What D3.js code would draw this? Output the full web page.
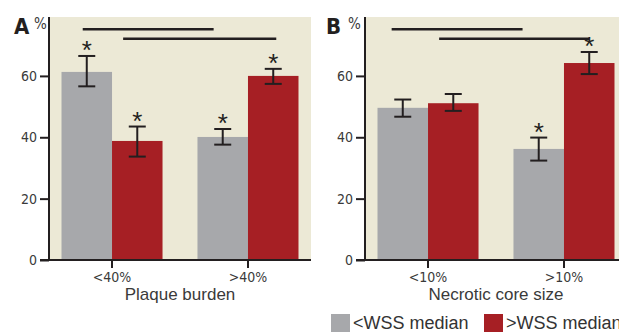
<!DOCTYPE html>
<html>
<head>
<meta charset="utf-8">
<script src="https://cdn.jsdelivr.net/npm/d3@7"></script>
<style>
  body { margin: 0; background: #fff; }
  svg { display: block; }
  .narrow { font-family: 'Liberation Sans Narrow', 'DejaVu Sans Condensed', 'Liberation Sans', sans-serif; }
</style>
</head>
<body>
<div id="chart"></div>
<script>
// ---- data ----
const seriesKeys = ['low', 'high'];
const seriesNames = ['<WSS median', '>WSS median'];
const yTicks = [0, 20, 40, 60];

// panel A: plaque burden
const categoriesA = ['<40%', '>40%'];
const lowWssA = [61.3, 40.1];
const highWssA = [38.8, 60.0];
const lowWssErrA = [[56.6, 66.5], [37.6, 42.7]];
const highWssErrA = [[33.7, 43.5], [57.4, 62.3]];
const lowWssStarA = [true, true];
const highWssStarA = [true, true];
// significance bars: [category, fraction along group] -> [category, fraction], level
const sigLinesA = [
  { from: ['<40%', 0.21], to: ['>40%', 0.16], level: 75.2 },
  { from: ['<40%', 0.61], to: ['>40%', 0.78], level: 72.1 }
];

// panel B: necrotic core size
const categoriesB = ['<10%', '>10%'];
const lowWssB = [49.6, 36.2];
const highWssB = [51.1, 64.2];
const lowWssErrB = [[46.7, 52.3], [32.4, 39.9]];
const highWssErrB = [[48.6, 54.1], [60.6, 67.8]];
const lowWssStarB = [false, true];
const highWssStarB = [false, true];
const sigLinesB = [
  { from: ['<10%', 0.14], to: ['>10%', 0.09], level: 75.2 },
  { from: ['<10%', 0.61], to: ['>10%', 0.75], level: 72.1 }
];

// ---- drawing ----
const W = 619, H = 332;
const colors = { low: '#a7a8ab', high: '#a61f24' };
const ink = '#231f20';

const svg = d3.select('#chart').append('svg')
    .attr('width', W)
    .attr('height', H);

const y = d3.scaleLinear()
    .domain([0, 79.2])
    .range([260, 17]);

const drawPanel = (p) => {
  const x = d3.scaleBand()
      .domain(p.categories)
      .range([p.left, p.right])
      .paddingInner(0.257)
      .paddingOuter(0.092);

  const xs = d3.scaleBand()
      .domain(seriesKeys)
      .range([0, x.bandwidth()]);

  const g = svg.append('g');

  g.append('rect')
      .attr('x', p.left)
      .attr('y', y.range()[1])
      .attr('width', p.right - p.left)
      .attr('height', y(0) - y.range()[1])
      .attr('fill', '#ece9d6');

  const rows = p.categories.map((c, i) => ({
    cat: c,
    values: [
      { key: 'low', v: p.low[i], err: p.lowErr[i], star: p.lowStar[i] },
      { key: 'high', v: p.high[i], err: p.highErr[i], star: p.highStar[i] }
    ]
  }));

  const grp = g.selectAll('.grp')
      .data(rows)
    .enter()
      .append('g')
      .attr('class', 'grp')
      .attr('transform', (d) => `translate(${x(d.cat)},0)`);

  grp.selectAll('rect')
      .data((d) => d.values)
    .enter()
      .append('rect')
      .attr('x', (d) => xs(d.key))
      .attr('y', (d) => y(d.v))
      .attr('width', xs.bandwidth())
      .attr('height', (d) => y(0) - y(d.v))
      .attr('fill', (d) => colors[d.key]);

  const eb = grp.selectAll('.eb')
      .data((d) => d.values)
    .enter()
      .append('g')
      .attr('class', 'eb')
      .attr('transform', (d) => `translate(${xs(d.key) + xs.bandwidth() / 2},0)`)
      .attr('stroke', ink)
      .attr('stroke-width', 2);
  eb.append('line')
      .attr('y1', (d) => y(d.err[0]))
      .attr('y2', (d) => y(d.err[1]));
  eb.append('line')
      .attr('x1', -8.5).attr('x2', 8.5)
      .attr('y1', (d) => y(d.err[0]))
      .attr('y2', (d) => y(d.err[0]));
  eb.append('line')
      .attr('x1', -8.5).attr('x2', 8.5)
      .attr('y1', (d) => y(d.err[1]))
      .attr('y2', (d) => y(d.err[1]));

  grp.selectAll('.star')
      .data((d) => d.values.filter((v) => v.star))
    .enter()
      .append('text')
      .attr('class', 'star')
      .attr('x', (d) => xs(d.key) + xs.bandwidth() / 2)
      .attr('y', (d) => y(d.err[1]) + 3)
      .attr('text-anchor', 'middle')
      .style('font-family', 'Liberation Sans, sans-serif')
      .style('font-size', '26px')
      .style('fill', ink)
      .text('*');

  g.selectAll('.sig')
      .data(p.sig)
    .enter()
      .append('line')
      .attr('x1', (d) => x(d.from[0]) + d.from[1] * x.bandwidth())
      .attr('x2', (d) => x(d.to[0]) + d.to[1] * x.bandwidth())
      .attr('y1', (d) => y(d.level))
      .attr('y2', (d) => y(d.level))
      .attr('stroke', ink)
      .attr('stroke-width', 2.5);

  // axes
  const yAxis = g.append('g')
      .attr('transform', `translate(${p.left},0)`)
      .call(d3.axisLeft(y).tickValues(yTicks).tickSize(9).tickPadding(3).tickFormat(d3.format('d')));
  yAxis.select('.domain').attr('d', `M0,${y.range()[1]}V${y(0)}`);

  const xAxis = g.append('g')
      .attr('transform', `translate(0,${y(0)})`)
      .call(d3.axisBottom(x).tickSize(8).tickPadding(4));
  xAxis.select('.domain').attr('d', `M${p.left - 9},0H${p.right}`);

  [yAxis, xAxis].forEach((ax) => {
    ax.selectAll('.domain, line').attr('stroke', ink).attr('stroke-width', 2);
    ax.selectAll('text')
        .attr('class', 'narrow')
        .style('font-size', '14px')
        .style('fill', '#3a3a3a');
  });

  g.append('text')
      .attr('x', (x(p.categories[0]) + x(p.categories[1]) + x.bandwidth()) / 2)
      .attr('y', 300)
      .attr('text-anchor', 'middle')
      .style('font-family', 'Liberation Sans, sans-serif')
      .style('font-size', '17px')
      .style('fill', '#3a3a3a')
      .text(p.title);

  g.append('text')
      .attr('class', 'narrow')
      .attr('x', p.labelX)
      .attr('y', 34)
      .style('font-size', '22px')
      .style('font-weight', 'bold')
      .style('fill', ink)
      .text(p.label);
  g.append('text')
      .attr('class', 'narrow')
      .attr('x', p.labelX + p.pctDx)
      .attr('y', 29)
      .style('font-size', '15px')
      .style('fill', '#3a3a3a')
      .text('%');
};

drawPanel({
  categories: categoriesA, low: lowWssA, high: highWssA,
  lowErr: lowWssErrA, highErr: highWssErrA,
  lowStar: lowWssStarA, highStar: highWssStarA,
  sig: sigLinesA, left: 49, right: 311,
  title: 'Plaque burden', label: 'A', labelX: 14, pctDx: 20
});

drawPanel({
  categories: categoriesB, low: lowWssB, high: highWssB,
  lowErr: lowWssErrB, highErr: highWssErrB,
  lowStar: lowWssStarB, highStar: highWssStarB,
  sig: sigLinesB, left: 365, right: 627,
  title: 'Necrotic core size', label: 'B', labelX: 326, pctDx: 22
});

// legend
const legend = svg.append('g');
const legendX = [331, 484];
seriesKeys.forEach((k, i) => {
  legend.append('rect')
      .attr('x', legendX[i])
      .attr('y', 314)
      .attr('width', 19)
      .attr('height', 19)
      .attr('fill', colors[k]);
  legend.append('text')
      .attr('x', legendX[i] + 22)
      .attr('y', 329)
      .style('font-family', 'Liberation Sans, sans-serif')
      .style('font-size', '18px')
      .style('fill', '#333')
      .text(seriesNames[i]);
});
</script>
</body>
</html>
